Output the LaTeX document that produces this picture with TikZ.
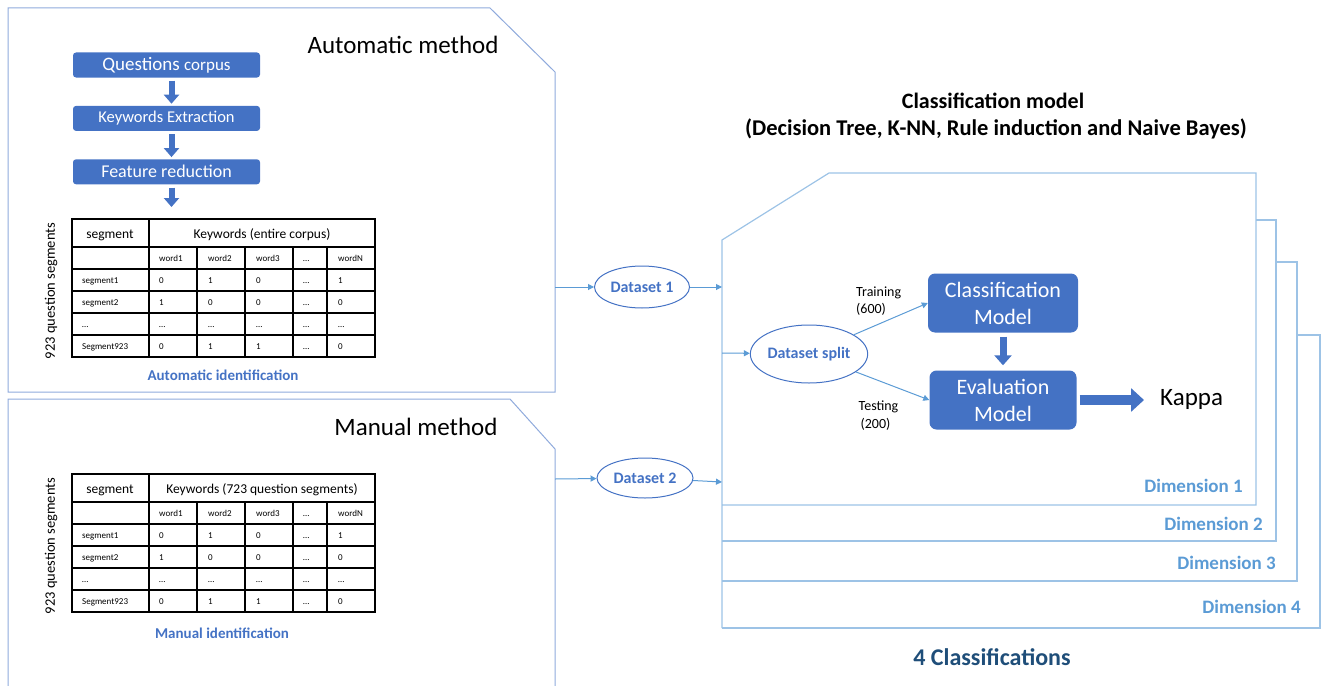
\documentclass[tikz,border=0pt]{standalone}
\usepackage{fontspec}
\setmainfont{Carlito}
\usetikzlibrary{positioning,arrows.meta,shapes.geometric}

\definecolor{boxblue}{HTML}{4472C4}
\definecolor{lineblue}{HTML}{5B9BD5}
\definecolor{paneblue}{HTML}{8FAADC}
\definecolor{dimblue}{HTML}{9DC3E6}
\definecolor{navyblue}{HTML}{1F4E79}

\newcommand{\fsz}[2]{\fontsize{#1}{#2}\selectfont}

% keyword table: #1 = name prefix, #2 = top edge, #3 = header text
\newcommand{\kwtable}[3]{%
  \draw[tabline] (72,#2) rectangle (375,#2+138);
  \foreach \dy in {28,50,72,94,116}
    \draw[tabline] (72,#2+\dy) -- (375,#2+\dy);
  \draw[tabline] (149,#2) -- (149,#2+138);
  \foreach \cx in {197,245,293,327}
    \draw[tabline] (\cx,#2+28) -- (\cx,#2+138);
  \node[anchor=base,font=\fsz{13.5}{16}] (#1-seg) at (110,#2+19) {segment};
  \node[anchor=base,font=\fsz{13.5}{16}] (#1-kw) at (262,#2+19) {#3};
  \foreach \cx/\ra/\rb/\rc/\rd/\re [count=\i] in
      {82/{}/segment1/segment2/\dots/Segment923,
       159/word1/0/1/\dots/0,
       208/word2/1/0/\dots/1,
       256/word3/0/0/\dots/1,
       303/\dots/\dots/\dots/\dots/\dots,
       338/wordN/1/0/\dots/0}
    \foreach \ry/\txt [count=\j] in {42/\ra,64/\rb,86/\rc,108/\rd,130/\re}
      \node[cell] (#1-c\i-r\j) at (\cx,#2+\ry) {\txt};
  \node[rotate=90,font=\fsz{14.5}{16}] (#1-side) at (51,#2+72) {923 question segments};
}

\begin{document}
\begin{tikzpicture}[x=1pt,y=-1pt,node distance=28pt]
  \tikzset{
    pane/.style={draw=paneblue,line width=1pt},
    dimpane/.style={draw=dimblue,line width=1.2pt},
    stepbox/.style={fill=boxblue,text=white,rounded corners=3pt,
      minimum width=187pt,minimum height=25pt,inner sep=0pt},
    modelbox/.style={fill=boxblue,text=white,rounded corners=7pt,
      minimum width=150pt,minimum height=59pt,inner sep=0pt,
      align=center,font=\fsz{22}{27}},
    dataset/.style={ellipse,draw=boxblue,line width=1pt,text=boxblue,
      inner sep=0pt,font=\bfseries\fsz{16}{18}},
    link/.style={draw=lineblue,line width=1pt,-{Triangle[length=6pt,width=6pt]}},
    fatarrow/.style={draw=boxblue,line width=6pt,-{Triangle[length=9pt,width=15pt]}},
    tabline/.style={draw=black,line width=1.5pt},
    cell/.style={anchor=base west,inner sep=0pt,font=\fsz{9}{11}},
    idlabel/.style={anchor=base,text=boxblue,font=\bfseries\fsz{15}{18}},
    dimlabel/.style={anchor=base east,inner sep=0pt,text=lineblue,
      font=\bfseries\fsz{19}{22}}
  }
  \useasboundingbox (0,0) rectangle (1321,685);

  % frames
  \draw[pane] (8,8) -- (490,8) -- (555,72) -- (555,392) -- (8,392) -- cycle;
  \draw[pane] (8,686) -- (8,399) -- (510,399) -- (555,449) -- (555,686);
  \draw[dimpane] (1297,335) -- (1320,335) -- (1320,628) -- (722,628);
  \draw[dimpane] (1276,262) -- (1297,262) -- (1297,581) -- (722,581);
  \draw[dimpane] (1256,220) -- (1276,220) -- (1276,541) -- (722,541);
  \draw[dimpane] (722,628) -- (722,240) -- (829,173) -- (1256,173)
    -- (1256,505) -- (722,505);

  % automatic method
  \node[anchor=base,font=\fsz{25}{30}] (autotitle) at (403,53) {Automatic method};
  \node[stepbox,font=\fsz{19}{22}] (corpus) at (166.5,65) {Questions {\fsz{17}{20}corpus}};
  \node[stepbox,font=\fsz{16.5}{20},below=of corpus] (extract) {Keywords Extraction};
  \node[stepbox,font=\fsz{18}{22},below=of extract] (reduce) {Feature reduction};
  \coordinate (autotab) at (171.5,207);
  \draw[fatarrow,shorten <=3pt,shorten >=2pt]
    ([xshift=5pt]corpus.south) -- ([xshift=5pt]extract.north);
  \draw[fatarrow,shorten <=3pt,shorten >=2pt]
    ([xshift=5pt]extract.south) -- ([xshift=5pt]reduce.north);
  \draw[fatarrow,shorten <=3pt] ([xshift=5pt]reduce.south) -- (autotab);
  \kwtable{auto}{219}{Keywords (entire corpus)}
  \node[idlabel] (autoid) at (223,380) {Automatic identification};

  % manual method
  \node[anchor=base,font=\fsz{25}{30}] (mantitle) at (416,435) {Manual method};
  \kwtable{man}{474}{Keywords (723 question segments)}
  \node[idlabel] (manid) at (222,638) {Manual identification};

  % classification
  \node[anchor=base,font=\bfseries\fsz{22}{26}] (cmtitle) at (993,108) {Classification model};
  \node[anchor=base,font=\bfseries\fsz{22.5}{26}] (cmlist) at (996,135)
    {(Decision Tree, K-NN, Rule induction and Naive Bayes)};

  \node[dataset,minimum width=95pt,minimum height=42pt] (ds1) at (642,287) {Dataset 1};
  \node[dataset,minimum width=96pt,minimum height=40pt] (ds2) at (645,478) {Dataset 2};
  \node[dataset,minimum width=102pt,minimum height=58pt] (split) at (809,354) {Dataset split};
  \node[modelbox] (clsm) at (1003,303) {Classification\\Model};
  \node[modelbox,minimum width=147pt] (evalm) at (1003,400) {Evaluation\\Model};
  \node[anchor=base west,inner sep=0pt,font=\fsz{25}{30}] (kappa) at (1160,405) {Kappa};
  \node[anchor=base west,inner sep=0pt,font=\fsz{14}{16}] (train) at (856,296) {Training};
  \node[anchor=base west,inner sep=0pt,font=\fsz{14}{16}] (trainnum) at (856,313) {(600)};
  \node[anchor=base,inner sep=0pt,font=\fsz{14}{16}] (test) at (878.5,410) {Testing};
  \node[anchor=base,inner sep=0pt,font=\fsz{14}{16}] (testnum) at (875.5,428) {(200)};

  \coordinate (autoout) at (555,287);
  \coordinate (manout) at (555,479);
  \coordinate (d1in) at (722,287);
  \coordinate (d2in) at (722,482);
  \coordinate (splitin) at (722,353);
  \draw[link] (autoout) -- (ds1);
  \draw[link] (ds1) -- (d1in);
  \draw[link] (manout) -- (ds2);
  \draw[link] (ds2) -- (d2in);
  \draw[link] (splitin) -- (split);
  \draw[link] (split) -- (clsm.west);
  \draw[link] (split) -- (evalm.west);
  \draw[fatarrow,line width=7pt,-{Triangle[length=10pt,width=17pt]},
    shorten <=4pt,shorten >=5pt] (clsm) -- (evalm);
  \draw[fatarrow,line width=10pt,-{Triangle[length=13pt,width=23pt]},
    shorten <=3pt,shorten >=16pt] (evalm.east) -- (evalm.east -| kappa.west);

  \node[dimlabel] (dim1) at (1243,492) {Dimension 1};
  \node[dimlabel] (dim2) at (1263,530) {Dimension 2};
  \node[dimlabel] (dim3) at (1276,569) {Dimension 3};
  \node[dimlabel] (dim4) at (1301,613) {Dimension 4};
  \node[anchor=base,text=navyblue,font=\bfseries\fsz{24}{28}] (total) at (992,665)
    {4 Classifications};
\end{tikzpicture}
\end{document}
